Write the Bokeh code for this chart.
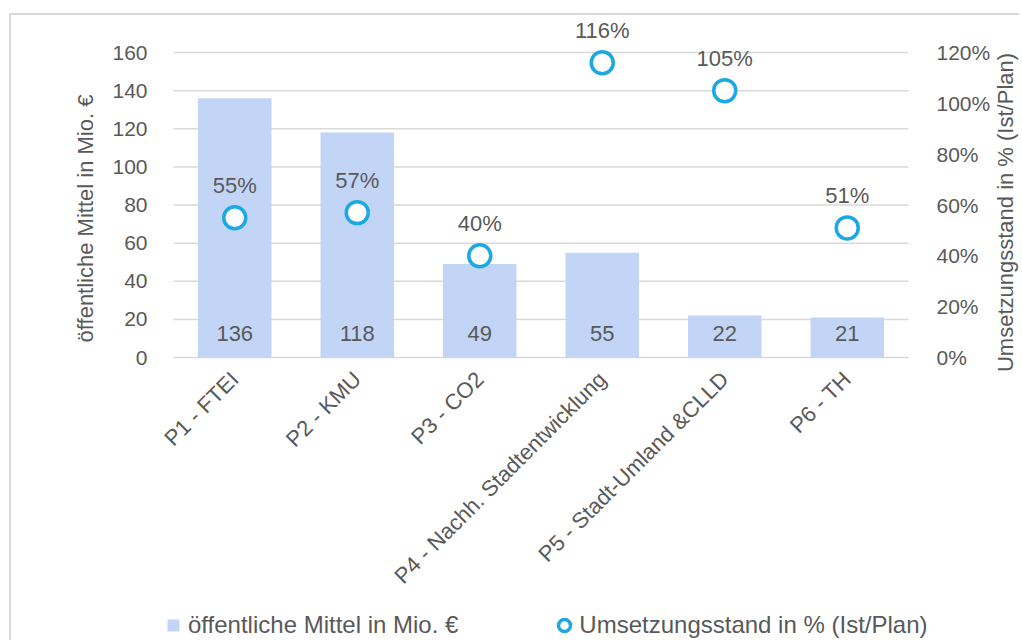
import math
from bokeh.plotting import figure
from bokeh.layouts import column
from bokeh.models import (ColumnDataSource, FactorRange, Range1d, LinearAxis, LabelSet, Label,
                          Legend, LegendItem, NumeralTickFormatter, FixedTicker)
from bokeh.core.properties import value
from bokeh.embed import file_html
from bokeh.resources import INLINE

categories = ["P1 - FTEI", "P2 - KMU", "P3 - CO2", "P4 - Nachh. Stadtentwicklung",
              "P5 - Stadt-Umland &CLLD", "P6 - TH"]
mittel = [136, 118, 49, 55, 22, 21]
umsetzung = [0.55, 0.57, 0.40, 1.16, 1.05, 0.51]
left_ticks = [0, 20, 40, 60, 80, 100, 120, 140, 160]
right_ticks = [0, 0.2, 0.4, 0.6, 0.8, 1.0, 1.2]
left_title = "öffentliche Mittel in Mio. €"
right_title = "Umsetzungsstand in % (Ist/Plan)"
legend_labels = ["öffentliche Mittel in Mio. €", "Umsetzungsstand in % (Ist/Plan)"]

FONT = "Liberation Sans"
TXT = "#595959"
GRID = "#d9d9d9"
BAR = "#c3d5f6"
CIRC = "#1ca9e1"

# The plot frame covers the whole chart box so that titles, labels and legend
# are not clipped; the value axes are pinned to the edges of the category area.
PX_PER_CAT = 122.5
X_PAD = 111 / PX_PER_CAT
PX_PER_UNIT = 305 / 160
Y_TOP = (357 - 15) / PX_PER_UNIT
Y_BOT = -(640 - 357) / PX_PER_UNIT
K = 1.2 / 160

src = ColumnDataSource(dict(
    cat=categories, mittel=mittel, ums=umsetzung,
    mittel_lbl=[str(v) for v in mittel],
    ums_lbl=["%d%%" % round(v * 100) for v in umsetzung],
    zero=[0] * len(categories),
))
grid_src = ColumnDataSource(dict(y=left_ticks, x0=[0] * len(left_ticks),
                                 x1=[len(categories)] * len(left_ticks)))

p = figure(x_range=FactorRange(*categories, range_padding=X_PAD, range_padding_units="absolute"),
           y_range=Range1d(Y_BOT, Y_TOP), width=1008, height=625,
           output_backend="svg", toolbar_location=None,
           min_border_left=51, min_border_right=0, min_border_top=0, min_border_bottom=0)
p.outline_line_color = None
p.grid.visible = False
p.extra_y_ranges = {"pct": Range1d(Y_BOT * K, Y_TOP * K)}

p.segment(x0="x0", x1="x1", y0="y", y1="y", source=grid_src, line_color=GRID, line_width=1.5)
bars = p.vbar(x="cat", top="mittel", bottom=0, width=0.6, source=src, fill_color=BAR, line_color=None)
circ = p.scatter(x="cat", y="ums", y_range_name="pct", source=src, marker="circle", size=22,
                 fill_color="white", line_color=CIRC, line_width=3.5)
bar_key = p.scatter(x="cat", y="zero", source=src, marker="square", size=0,
                    fill_color=BAR, line_color=None)

left = p.yaxis[0]
left.ticker = FixedTicker(ticks=left_ticks)
left.fixed_location = 0
right = LinearAxis(y_range_name="pct", ticker=FixedTicker(ticks=right_ticks),
                   formatter=NumeralTickFormatter(format="0%"))
right.fixed_location = len(categories)
p.add_layout(right, "right")

for ax in (left, right):
    ax.axis_line_color = None
    ax.major_tick_line_color = None
    ax.minor_tick_line_color = None
    ax.major_label_text_font = FONT
    ax.major_label_text_font_size = "21px"
    ax.major_label_text_color = TXT
left.major_label_standoff = 20
right.major_label_standoff = 22

xa = p.xaxis[0]
xa.fixed_location = 0
xa.axis_line_color = None
xa.major_tick_line_color = None
xa.minor_tick_line_color = None
xa.major_label_orientation = math.pi / 4
xa.major_label_text_font = FONT
xa.major_label_text_font_size = "22px"
xa.major_label_text_color = TXT
xa.major_label_standoff = 12

bar_lbls = LabelSet(x="cat", y="zero", text="mittel_lbl", source=src, y_offset=24,
                    text_align="center", text_baseline="middle", text_font=value(FONT),
                    text_font_size="22px", text_color=TXT)
pct_lbls = LabelSet(x="cat", y="ums", y_range_name="pct", text="ums_lbl", source=src, y_offset=32,
                    text_align="center", text_baseline="middle", text_font=value(FONT),
                    text_font_size="22px", text_color=TXT)
p.add_layout(bar_lbls)
p.add_layout(pct_lbls)

for txt, xs, ys in [(left_title, 23, 422), (right_title, 943, 428)]:
    p.add_layout(Label(x=xs, y=ys, x_units="screen", y_units="screen", text=txt,
                       angle=math.pi / 2, text_align="center", text_baseline="middle",
                       text_font=FONT, text_font_size="22px", text_color=TXT))

legend = Legend(items=[LegendItem(label=legend_labels[0], renderers=[bar_key]),
                       LegendItem(label=legend_labels[1], renderers=[circ])],
                orientation="horizontal", location=(96, 0), spacing=91,
                label_text_font=FONT, label_text_font_size="24px", label_text_color=TXT,
                glyph_width=30, glyph_height=30, label_standoff=0, padding=0, margin=0,
                border_line_color=None, background_fill_alpha=0)
p.add_layout(legend, "center")

layout = column(p, spacing=0, margin=(13, 0, 0, 9),
                styles={"border-left": "2px solid #d9d9d9", "border-top": "2px solid #d9d9d9"})

open("out.html", "w").write(file_html(layout, INLINE))
